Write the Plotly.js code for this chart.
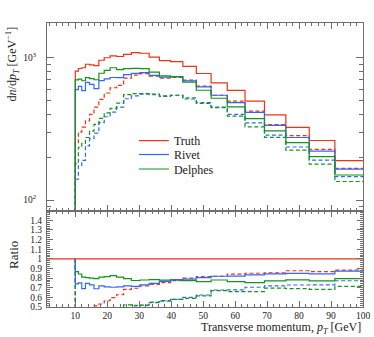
<!DOCTYPE html>
<html>
<head>
<meta charset="utf-8">
<script src="https://cdn.plot.ly/plotly-3.0.1.min.js"></script>
<style>
  html, body { margin: 0; padding: 0; background: #fff; }
  #plot { width: 374px; height: 337px; }
</style>
</head>
<body>
<div id="plot"></div>
<script>
// Bin edges in pT [GeV]
const binEdges = [10, 10.96, 12.02, 13.18, 14.45, 15.85, 17.38, 19.05, 20.89, 22.91, 25.12,
  27.54, 30.2, 33.11, 36.31, 39.81, 43.65, 47.86, 52.48, 57.54, 63.1, 69.18, 75.86, 83.18, 91.2, 100];

// dn/dpT per bin, solid = all, dashed = selected
const truthSolid = [805, 840, 850, 900, 890, 880, 960, 1000, 1030, 1020, 1055, 1085, 1075,
  1010, 955, 940, 870, 775, 665, 590, 495, 397, 324, 262, 189];
const rivetSolid = [596, 630, 587, 671, 650, 607, 691, 710, 726, 724, 760, 776, 785,
  752, 731, 738, 687, 624, 545, 484, 413, 335, 275, 221, 165];
const delphesSolid = [698, 708, 689, 725, 712, 700, 778, 815, 850, 826, 839, 841, 839,
  793, 745, 733, 674, 591, 519, 451, 373, 306, 253, 202, 150];
const truthDashed = [250, 300, 325, 360, 400, 450, 510, 565, 615, 640, 720, 754, 774,
  742, 719, 728, 696, 632, 545, 496, 421, 339, 284, 227, 167];
const rivetDashed = [140, 175, 190, 240, 270, 295, 350, 385, 415, 450, 515, 540, 555,
  550, 535, 545, 522, 484, 450, 400, 349, 286, 236, 191, 146];
const delphesDashed = [180, 235, 250, 275, 305, 340, 375, 410, 440, 480, 550, 560, 559,
  556, 540, 545, 513, 477, 446, 389, 327, 276, 224, 179, 135];

const seriesNames = ['Truth', 'Rivet', 'Delphes'];
const colors = ['#ee3311', '#3366ff', '#109618'];
const legendIds = ['legend', 'legend2', 'legend3'];

const FONT = 'Liberation Serif, Times New Roman, serif';
const FRAME = '#6e6e6e';

// step histogram: rises from below the axis at the first edge
function stepXY(values, start) {
  const x = [binEdges[0]];
  const y = [start];
  for (let i = 0; i < values.length; i++) {
    x.push(binEdges[i]);
    y.push(values[i]);
  }
  x.push(binEdges[binEdges.length - 1]);
  y.push(values[values.length - 1]);
  return { x: x, y: y };
}

const solids = [truthSolid, rivetSolid, delphesSolid];
const dashes = [truthDashed, rivetDashed, delphesDashed];

const data = [];

// main panel, dashed first
for (let k = 0; k < 3; k++) {
  const s = stepXY(dashes[k], 1);
  data.push({
    x: s.x, y: s.y, xaxis: 'x', yaxis: 'y', mode: 'lines', type: 'scatter',
    line: { shape: 'hv', color: colors[k], width: 1.2, dash: '4px,2.5px' },
    showlegend: false, hoverinfo: 'skip'
  });
}
for (let k = 0; k < 3; k++) {
  const s = stepXY(solids[k], 1);
  data.push({
    x: s.x, y: s.y, xaxis: 'x', yaxis: 'y', mode: 'lines', type: 'scatter',
    name: seriesNames[k], legend: legendIds[k],
    line: { shape: 'hv', color: colors[k], width: 1.2 },
    showlegend: true, hoverinfo: 'skip'
  });
}

// ratio panel, everything divided by the truth solid line
for (let k = 0; k < 3; k++) {
  const r = dashes[k].map((v, i) => v / truthSolid[i]);
  const s = stepXY(r, 1);
  data.push({
    x: s.x, y: s.y, xaxis: 'x2', yaxis: 'y2', mode: 'lines', type: 'scatter',
    line: { shape: 'hv', color: colors[k], width: 1.2, dash: '4px,2.5px' },
    showlegend: false, hoverinfo: 'skip'
  });
}
for (let k = 2; k >= 0; k--) {
  const r = solids[k].map((v, i) => v / truthSolid[i]);
  const s = stepXY(r, 1);
  if (k === 0) {
    s.x[0] = 1;
  }
  data.push({
    x: s.x, y: s.y, xaxis: 'x2', yaxis: 'y2', mode: 'lines', type: 'scatter',
    line: { shape: 'hv', color: colors[k], width: 1.2 },
    showlegend: false, hoverinfo: 'skip'
  });
}

const xMajor = [10, 20, 30, 40, 50, 60, 70, 80, 90, 100];
const xMinor = [];
for (let v = 2; v < 100; v += 2) xMinor.push(v);

const logMinor = [90];
for (let m = 2; m <= 9; m++) logMinor.push(m * 100);
logMinor.push(2000);

const ratioTicks = [0.5, 0.6, 0.7, 0.8, 0.9, 1, 1.1, 1.2, 1.3, 1.4];
const ratioText = ['0.5', '0.6', '0.7', '0.8', '0.9', '1', '1.1', '1.2', '1.3', '1.4'];

const axisCommon = {
  showline: true, linecolor: FRAME, linewidth: 1, mirror: 'ticks',
  ticks: 'inside', tickcolor: FRAME, showgrid: false, zeroline: false,
  tickfont: { family: FONT, size: 9.5, color: '#222' }
};

// one small legend per entry so the rows sit close together
function legendAt(yTop) {
  return {
    x: 0.275, y: yTop, xanchor: 'left', yanchor: 'top',
    bgcolor: 'rgba(0,0,0,0)', borderwidth: 0,
    font: { family: FONT, size: 12, color: '#222' },
    itemwidth: 30
  };
}

const layout = {
  width: 374, height: 337,
  margin: { l: 47, r: 11, t: 23, b: 30 },
  paper_bgcolor: '#fff', plot_bgcolor: '#fff',
  font: { family: FONT, color: '#222' },
  showlegend: true,
  legend: legendAt(0.637),
  legend2: legendAt(0.588),
  legend3: legendAt(0.537),
  xaxis: Object.assign({}, axisCommon, {
    domain: [0, 1], anchor: 'y', range: [1.15, 100],
    tickmode: 'array', tickvals: xMajor, ticklen: 6, showticklabels: false,
    minor: { tickmode: 'array', tickvals: xMinor, ticklen: 3, tickcolor: FRAME, ticks: 'inside' }
  }),
  yaxis: Object.assign({}, axisCommon, {
    domain: [0.339, 1], anchor: 'x', type: 'log', range: [1.925, 3.244],
    tickmode: 'array', tickvals: [100, 1000], ticktext: ['10<sup>2</sup>', '10<sup>3</sup>'],
    ticklen: 7, ticklabelstandoff: 8,
    minor: { tickmode: 'array', tickvals: logMinor, ticklen: 4, tickcolor: FRAME, ticks: 'inside' }
  }),
  xaxis2: Object.assign({}, axisCommon, {
    domain: [0, 1], anchor: 'y2', range: [1.15, 100], matches: 'x',
    tickmode: 'array', tickvals: xMajor, ticklen: 6,
    minor: { tickmode: 'array', tickvals: xMinor, ticklen: 3, tickcolor: FRAME, ticks: 'inside' }
  }),
  yaxis2: Object.assign({}, axisCommon, {
    domain: [0, 0.339], anchor: 'x2', range: [0.5, 1.5],
    tickmode: 'array', tickvals: ratioTicks, ticktext: ratioText, ticklen: 6,
    ticklabelstandoff: 2,
    minor: { tickmode: 'linear', tick0: 0, dtick: 0.02, ticklen: 3, tickcolor: FRAME, ticks: 'inside' }
  }),
  annotations: [
    {
      xref: 'paper', yref: 'paper', x: -0.11, y: 0.855,
      xanchor: 'center', yanchor: 'middle', textangle: -90, showarrow: false,
      text: 'd<i>n</i>/d<i>p</i><sub><i>T</i></sub> [GeV<sup>−1</sup>]',
      font: { family: FONT, size: 12, color: '#222' }
    },
    {
      xref: 'paper', yref: 'paper', x: -0.108, y: 0.183,
      xanchor: 'center', yanchor: 'middle', textangle: -90, showarrow: false,
      text: 'Ratio',
      font: { family: FONT, size: 13, color: '#222' }
    },
    {
      xref: 'paper', yref: 'paper', x: 1, y: -0.073,
      xanchor: 'right', yanchor: 'middle', showarrow: false,
      text: 'Transverse momentum, <i>p</i><sub><i>T</i></sub> [GeV]',
      font: { family: FONT, size: 12, color: '#222' }
    }
  ]
};

Plotly.newPlot('plot', data, layout, { staticPlot: true, displayModeBar: false });
</script>
</body>
</html>
